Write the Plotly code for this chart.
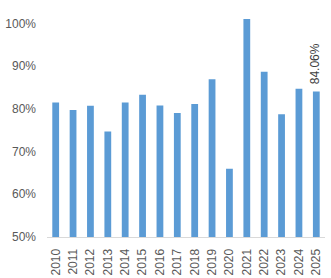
import plotly.graph_objects as go

years = [str(y) for y in range(2010, 2026)]
values = [81.5, 79.7, 80.7, 74.7, 81.5, 83.3, 80.8, 79.0, 81.1, 86.9, 66.0, 101.0, 88.7, 78.7, 84.7, 84.06]
label_year = "2025"
label_text = "84.06%"
y_ticks = [50, 60, 70, 80, 90, 100]
y_tick_text = ["50%", "60%", "70%", "80%", "90%", "100%"]

fig = go.Figure(go.Bar(
    x=years, y=values, marker_color="#5B9BD5", marker_line_width=0,
))
idx = years.index(label_year)
fig.add_annotation(x=idx, y=values[idx], text=label_text, textangle=-90,
                   showarrow=False, yanchor="bottom", xanchor="center", yshift=5, xshift=-1,
                   font=dict(size=12, color="#404040"))
fig.update_layout(
    width=331, height=278, margin=dict(l=47, r=6, t=2, b=41),
    paper_bgcolor="white", plot_bgcolor="white", bargap=0.61,
    font=dict(family="Liberation Sans, Arial, sans-serif", size=12, color="#595959"),
    showlegend=False,
)
fig.update_yaxes(range=[50, 105], tickvals=y_ticks, ticktext=y_tick_text,
                 showgrid=False, zeroline=False, showline=False, ticks="", ticklabelstandoff=10)
fig.update_xaxes(showgrid=False, showline=True, linecolor="#D9D9D9", linewidth=1,
                 tickangle=-90, ticks="", type="category", ticklabelstandoff=6)
fig.write_html("out.html")
